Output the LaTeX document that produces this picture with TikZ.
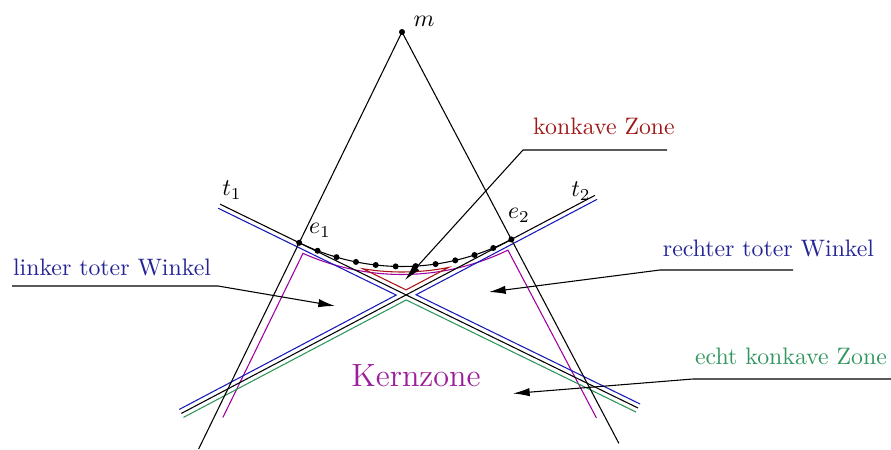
\documentclass[tikz,border=0pt]{standalone}
\usetikzlibrary{calc,arrows.meta}
\definecolor{tblue}{RGB}{35,35,150}
\definecolor{lblue}{RGB}{25,25,185}
\definecolor{tred}{RGB}{160,25,25}
\definecolor{lred}{RGB}{170,20,20}
\definecolor{tgreen}{RGB}{50,150,95}
\definecolor{lgreen}{RGB}{45,150,90}
\definecolor{tpurp}{RGB}{155,30,155}
\definecolor{lpurp}{RGB}{160,0,160}
\begin{document}
\begin{tikzpicture}[x=0.42pt,y=-0.42pt,line width=0.45pt,
  lead/.style={draw=black,-{Latex[length=7pt,width=3.5pt]}},
  lbl/.style={anchor=base,inner sep=0pt},
  bluel/.style={draw=lblue},
  redl/.style={draw=lred},
  greenl/.style={draw=lgreen},
  purpl/.style={draw=lpurp},
  dotb/.style={fill=black}]
\useasboundingbox (0,0) rectangle (891,450);
% main geometry
\coordinate (m) at (402,32);
\coordinate (e1) at ($(m)+(116:234.5)$);
\coordinate (e2) at ($(m)+(62.2:234.5)$);
\coordinate (t1a) at ($(e1)+(206:88)$);
\coordinate (t1b) at ($(e1)+(26:377)$);
\coordinate (t2a) at ($(e2)+(332.2:94.5)$);
\coordinate (t2b) at ($(e2)+(152.2:373)$);
\coordinate (l1) at ($(m)+(116:464)$);
\coordinate (r1) at ($(m)+(62.2:465)$);
% offset lines
\coordinate (t1aD) at ($(t1a)+(116:4.5)$);
\coordinate (t1bD) at ($(t1b)+(116:4.5)$);
\coordinate (t1aU) at ($(t1a)+(296:4.5)$);
\coordinate (t1bU) at ($(t1b)+(296:4.5)$);
\coordinate (t2aD) at ($(t2a)+(62.2:4.5)$);
\coordinate (t2bD) at ($(t2b)+(62.2:4.5)$);
\coordinate (t2aU) at ($(t2a)+(242.2:4.5)$);
\coordinate (t2bU) at ($(t2b)+(242.2:4.5)$);
\coordinate (bvl) at (intersection of t1aD--t1bD and t2aU--t2bU);
\coordinate (bvr) at (intersection of t2aD--t2bD and t1aU--t1bU);
\coordinate (gv) at (intersection of t2aD--t2bD and t1aD--t1bD);
\coordinate (rv) at (intersection of t1aU--t1bU and t2aU--t2bU);
% purple Kernzone boundary
\coordinate (pl) at ($(m)+(116:425)+(26:8)$);
\coordinate (pr) at ($(m)+(62.2:432)+(152.2:8)$);
\draw[purpl] (pl) -- plot[domain=114.1:64.1,samples=40] ({402+242.5*cos(\x)},{32+242.5*sin(\x)}) -- (pr);
% red konkave zone
\draw[redl] plot[domain=99.4:78.8,samples=30] ({402+240*cos(\x)},{32+240*sin(\x)}) -- (rv) -- cycle;
% green
\draw[greenl] (t2bD) -- (gv) -- (t1bD);
% blue
\draw[bluel] (t1aD) -- (bvl) -- (t2bU);
\draw[bluel] (t2aD) -- (bvr) -- (t1bU);
% black lines
\draw (m) -- (l1);
\draw (m) -- (r1);
\draw (t1a) -- (t1b);
\draw (t2a) -- (t2b);
\draw plot[domain=116:62.2,samples=60] ({402+234.5*cos(\x)},{32+234.5*sin(\x)});
\foreach \i in {0,...,11}{
  \fill[dotb] ($(m)+({116-\i*4.8909}:234.5)$) circle[radius=3];
}
\fill[dotb] (m) circle[radius=3];
% math labels
\node[lbl] (lm) at (424,27) {$m$};
\node[lbl] (lt1) at (232,196) {$t_1$};
\node[lbl] (lt2) at (581,197) {$t_2$};
\node[lbl] (le1) at (320,234) {$e_1$};
\node[lbl] (le2) at (519,219) {$e_2$};
% text labels
\node[lbl,text=tblue] (ltw) at (112,276) {linker toter Winkel};
\node[lbl,text=tred] (kzl) at (604,135) {konkave Zone};
\node[lbl,text=tblue] (rtw) at (768.5,256.7) {rechter toter Winkel};
\node[lbl,text=tgreen] (ekz) at (791,365) {echt konkave Zone};
\node[lbl,text=tpurp,font=\fontsize{13.5}{16}\selectfont] (kern) at (416,387) {Kernzone};
% leaders
\coordinate (ltwS) at (12,286);
\coordinate (ltwE) at (218,286);
\coordinate (ltwT) at (335,306);
\draw[lead] (ltwS) -- (ltwE) -- (ltwT);
\coordinate (kzS) at (667,150);
\coordinate (kzE) at (523,150);
\coordinate (kzT) at (405,280);
\draw[lead] (kzS) -- (kzE) -- (kzT);
\coordinate (rtwS) at (793,270);
\coordinate (rtwE) at (660,270);
\coordinate (rtwT) at (489,292);
\draw[lead] (rtwS) -- (rtwE) -- (rtwT);
\coordinate (ekzS) at (891,379);
\coordinate (ekzE) at (693,379);
\coordinate (ekzT) at (513,393.5);
\draw[lead] (ekzS) -- (ekzE) -- (ekzT);
\end{tikzpicture}
\end{document}
